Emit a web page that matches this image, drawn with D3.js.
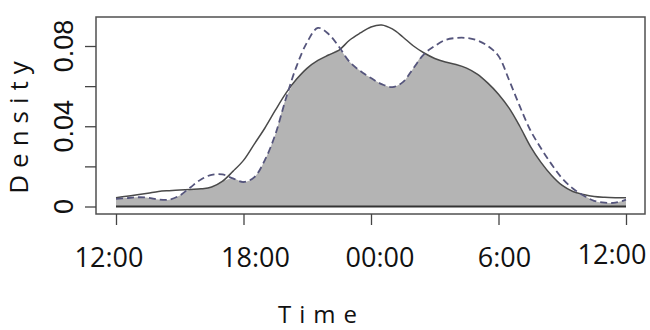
<!DOCTYPE html>
<html>
<head>
<meta charset="utf-8">
<script src="https://cdn.jsdelivr.net/npm/d3@7"></script>
<style>
  html, body { margin: 0; padding: 0; background: #fff; }
  svg { display: block; }
</style>
</head>
<body>
<div id="chart"></div>
<script>
// hours after 12:00 (noon to noon)
const hours = [0, 0.5, 1, 1.5, 2, 2.5, 3, 3.5, 4, 4.5, 5, 5.5, 6, 6.5, 7, 7.5, 8, 8.5, 9, 9.5, 10, 10.5, 11, 11.5,
               12, 12.5, 13, 13.5, 14, 14.5, 15, 15.5, 16, 16.5, 17, 17.5, 18, 18.5, 19, 19.5, 20, 20.5, 21, 21.5, 22, 22.5, 23, 23.5, 24];

// solid curve
const densityA = [0.0044, 0.0051, 0.0058, 0.0066, 0.0075, 0.0079, 0.0082, 0.0085, 0.0088, 0.0097, 0.0125, 0.0175,
                  0.0230, 0.0310, 0.0390, 0.0480, 0.0565, 0.0635, 0.0690, 0.0728, 0.0755, 0.0780, 0.0830, 0.0865,
                  0.0895, 0.0905, 0.0885, 0.0845, 0.0800, 0.0765, 0.0738, 0.0720, 0.0708, 0.0690, 0.0660, 0.0615,
                  0.0560, 0.0490, 0.0400, 0.0300, 0.0220, 0.0155, 0.0105, 0.0075, 0.0060, 0.0050, 0.0046, 0.0044, 0.0043];

// dashed curve
const densityB = [0.0038, 0.0042, 0.0046, 0.0044, 0.0035, 0.0034, 0.0055, 0.0095, 0.0135, 0.0158, 0.0160, 0.0140,
                  0.0122, 0.0145, 0.0230, 0.0360, 0.0540, 0.0700, 0.0820, 0.0890, 0.0860, 0.0795, 0.0720, 0.0675,
                  0.0640, 0.0610, 0.0595, 0.0620, 0.0690, 0.0760, 0.0800, 0.0830, 0.0840, 0.0840, 0.0828, 0.0800,
                  0.0750, 0.0630, 0.0500, 0.0380, 0.0290, 0.0210, 0.0140, 0.0090, 0.0055, 0.0028, 0.0019, 0.0019, 0.0034];

const xTickHours = [0, 6, 12, 18, 24];
const xTickLabels = ["12:00", "18:00", "00:00", "6:00", "12:00"];
const yTicks = [0, 0.02, 0.04, 0.06, 0.08];
const yTickLabels = [0, 0.04, 0.08];

const width = 650, height = 330;
const box = {left: 96, right: 645, top: 17, bottom: 214};
// the hour labels sit a little off their ticks in the original
const labelNudge = [-7, 12, 9, 6, -12];
const labelDrop = [53, 53, 53, 53, 50];

const svg = d3.select("#chart").append("svg")
  .attr("width", width)
  .attr("height", height);

const x = d3.scaleLinear().domain([0, 24]).range([116, 626]);
const y = d3.scaleLinear().domain([0, 0.08]).range([206.5, 46]);

const rows = hours.map((h, i) => ({h: h, a: densityA[i], b: densityB[i]}));

// overlap area = min of the two densities
const area = d3.area()
  .x(d => x(d.h))
  .y0(y(0))
  .y1(d => y(Math.min(d.a, d.b)))
  .curve(d3.curveCatmullRom);

svg.append("path")
  .datum(rows)
  .attr("d", area)
  .attr("fill", "#b4b4b4");

svg.append("path")
  .datum(rows)
  .attr("d", d3.line().x(d => x(d.h)).y(d => y(d.a)).curve(d3.curveCatmullRom))
  .attr("fill", "none")
  .attr("stroke", "#4a4a4a")
  .attr("stroke-width", 1.5);

svg.append("path")
  .datum(rows)
  .attr("d", d3.line().x(d => x(d.h)).y(d => y(d.b)).curve(d3.curveCatmullRom))
  .attr("fill", "none")
  .attr("stroke", "#55557c")
  .attr("stroke-width", 1.8)
  .attr("stroke-dasharray", "7,4");

// zero line
svg.append("line")
  .attr("x1", x(0)).attr("x2", x(24))
  .attr("y1", y(0)).attr("y2", y(0))
  .attr("stroke", "#333")
  .attr("stroke-width", 2);

// frame
svg.append("rect")
  .attr("x", box.left).attr("y", box.top)
  .attr("width", box.right - box.left)
  .attr("height", box.bottom - box.top)
  .attr("fill", "none")
  .attr("stroke", "#505050")
  .attr("stroke-width", 1.5);

// x axis ticks
const xAxis = svg.append("g")
  .attr("transform", `translate(0,${box.bottom})`)
  .call(d3.axisBottom(x).tickValues(xTickHours).tickSize(11).tickFormat(""));
xAxis.select(".domain").remove();
xAxis.selectAll("line").attr("stroke", "#444").attr("stroke-width", 1.3);

xAxis.selectAll(".lbl")
  .data(xTickHours)
  .enter().append("text")
  .attr("class", "lbl")
  .attr("x", (d, i) => Math.min(x(d) + labelNudge[i], width - 38))
  .attr("y", (d, i) => labelDrop[i])
  .attr("text-anchor", "middle")
  .attr("font-family", "'Open Sans', sans-serif")
  .attr("font-size", 27)
  .attr("fill", "#111")
  .text((d, i) => xTickLabels[i]);

// y axis ticks
const yAxis = svg.append("g")
  .attr("transform", `translate(${box.left},0)`)
  .call(d3.axisLeft(y).tickValues(yTicks).tickSize(11).tickFormat(""));
yAxis.select(".domain").remove();
yAxis.selectAll("line").attr("stroke", "#444").attr("stroke-width", 1.3);

svg.selectAll(".ylbl")
  .data(yTickLabels)
  .enter().append("text")
  .attr("class", "ylbl")
  .attr("transform", d => `translate(73,${y(d)}) rotate(-90)`)
  .attr("text-anchor", "middle")
  .attr("font-family", "'Liberation Sans', Arial, sans-serif")
  .attr("font-size", 27)
  .attr("fill", "#111")
  .text(d => d === 0 ? "0" : d3.format(".2f")(d));

// axis titles
svg.append("text")
  .attr("transform", "translate(28,124) rotate(-90)")
  .attr("text-anchor", "middle")
  .attr("font-family", "'Open Sans', sans-serif")
  .attr("font-size", 26)
  .attr("letter-spacing", 7)
  .attr("fill", "#111")
  .text("Density");

svg.append("text")
  .attr("x", 278)
  .attr("y", 323)
  .attr("font-family", "'Open Sans', sans-serif")
  .attr("font-size", 24)
  .attr("letter-spacing", 8)
  .attr("fill", "#111")
  .text("Time");
</script>
</body>
</html>
